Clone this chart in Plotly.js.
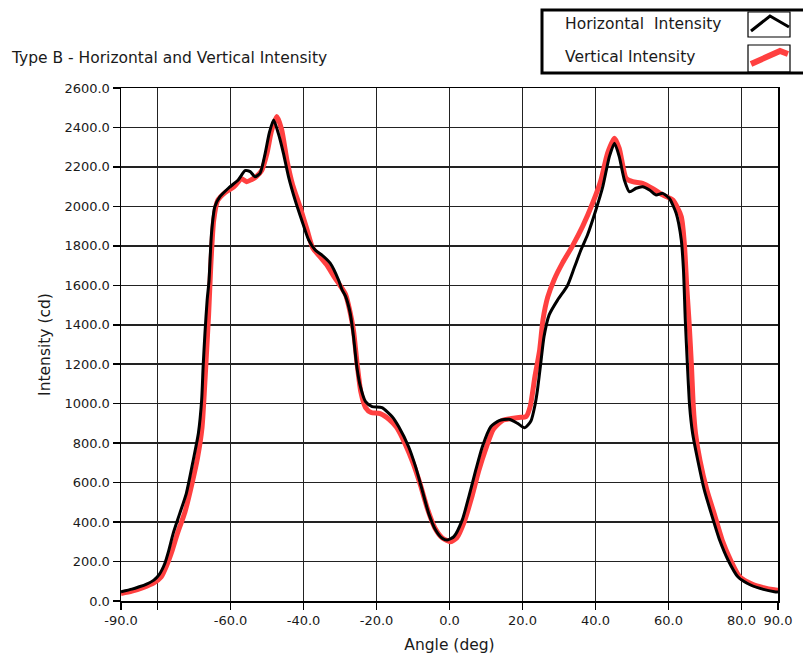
<!DOCTYPE html>
<html>
<head>
<meta charset="utf-8">
<script src="https://cdn.plot.ly/plotly-3.0.1.min.js"></script>
<style>html,body{margin:0;padding:0;background:#fff;}#chart{width:803px;height:664px;}</style>
</head>
<body>
<div id="chart"></div>
<script>
// Horizontal Intensity (black)
const horizAngle = [-90,-87,-85,-83,-81,-79.5,-78,-77,-75.7,-73.9,-72.1,-70.2,-68.8,-67.9,-67.5,-67.0,-66.4,-65.9,-65.2,-64.3,-62.9,-60.6,-57.9,-56.0,-54.6,-53.3,-51.9,-50.5,-49.4,-48.2,-46.9,-45.5,-44.1,-42.3,-40.5,-38.6,-36.8,-35.0,-32.7,-30.4,-29.5,-28.5,-27.2,-26.3,-25.4,-24.4,-23.0,-21.2,-18.5,-15.7,-13.9,-11.2,-9.3,-7.5,-5.7,-3.8,-2.0,-0.6,1.2,3.5,5.3,7.2,9.0,11.3,13.6,16.3,18.6,20.6,22.3,23.5,24.1,25.0,25.9,27.3,29.6,32.3,34.2,36.0,37.8,40.1,42.0,43.8,45.2,46.5,47.9,49.3,51.1,52.9,54.8,56.6,58.4,60.2,62.1,63.5,64.1,64.6,65.2,65.8,66.6,68.0,69.8,71.7,74.0,76.3,79.0,82.5,86.0,89.0,90];
const horizValue = [47,60,72,86,106,135,190,250,343,444,546,715,850,1019,1188,1358,1525,1620,1864,1998,2049,2092,2134,2181,2176,2150,2168,2269,2370,2438,2370,2269,2150,2032,1931,1830,1779,1754,1712,1627,1580,1545,1458,1340,1188,1086,1010,985,980,934,883,782,681,563,444,360,318,309,326,411,529,664,782,883,914,921,901,878,912,1000,1069,1205,1340,1450,1525,1598,1690,1779,1855,1982,2100,2252,2320,2252,2134,2074,2092,2100,2083,2058,2066,2041,1965,1830,1678,1424,1188,985,850,715,563,444,309,208,123,81,59,47,45];

// Vertical Intensity (red)
const vertAngle = [-90,-87,-84,-81,-79,-77.5,-76,-74.5,-72.5,-70.5,-69,-67.8,-67.2,-66.6,-66.0,-65.4,-64.6,-63.5,-61.5,-59,-57,-55.6,-54.3,-53,-51.5,-50,-48.8,-47.3,-46,-44.5,-43,-41,-39,-37.5,-35.5,-33.5,-31.5,-30,-28.5,-27.3,-26.3,-25.3,-24.3,-23.0,-21.5,-19,-16.5,-14.5,-12,-10,-8,-6,-4,-2,0.3,2,4,6,8,10,12,14.5,17,19,21,22.1,23.4,24.7,25.6,26.9,28.7,31.0,33.7,36.5,39.2,41.5,43.3,45.2,46.5,48.4,50.2,52.9,55.7,58.4,61.2,63.5,64.4,65.0,65.6,66.3,66.8,67.4,68.6,70.5,72.5,74.7,77,79.5,83,86,89,90];
const vertValue = [38,50,68,92,122,180,255,345,450,600,730,880,1050,1250,1450,1700,1930,2030,2070,2100,2140,2125,2135,2150,2180,2270,2380,2455,2390,2230,2110,2000,1880,1790,1745,1700,1640,1600,1555,1470,1370,1200,1060,980,955,950,920,880,790,700,590,465,370,320,300,320,400,520,660,775,870,915,925,930,935,985,1137,1272,1424,1540,1630,1715,1800,1900,2016,2134,2269,2345,2294,2142,2125,2117,2090,2058,2032,1948,1796,1593,1424,1188,985,850,715,563,444,309,208,123,85,68,57,55];

const xTickVals = [-90,-80,-60,-40,-20,0,20,40,60,80,90];
const xTickText = ['-90.0','','-60.0','-40.0','-20.0','0.0','20.0','40.0','60.0','80.0','90.0'];

const seriesNames = ['Horizontal  Intensity','Vertical Intensity'];

const W = 803, H = 664, L = 121, R = 25, T = 88, B = 63;
const pw = W - L - R, ph = H - T - B;
const px = v => (v - L) / pw;
const py = v => (H - B - v) / ph;

const FONT = 'DejaVu Sans, Verdana, sans-serif';
const TXT = '#1a1a1a';

const traces = [
  {x: vertAngle, y: vertValue, mode: 'lines', name: seriesNames[1],
   line: {color: '#ff4040', width: 5, shape: 'spline', smoothing: 0.6}},
  {x: horizAngle, y: horizValue, mode: 'lines', name: seriesNames[0],
   line: {color: '#000000', width: 3, shape: 'spline', smoothing: 0.6}}
];

const shapes = [
  {type: 'rect', xref: 'paper', yref: 'paper', x0: px(542), x1: px(806), y0: py(10), y1: py(73),
   line: {color: '#000', width: 3}, fillcolor: '#fff', layer: 'above'},
  {type: 'rect', xref: 'paper', yref: 'paper', x0: px(748), x1: px(790), y0: py(12), y1: py(37),
   line: {color: '#000', width: 1.2}, layer: 'above'},
  {type: 'rect', xref: 'paper', yref: 'paper', x0: px(748), x1: px(790), y0: py(45), y1: py(72),
   line: {color: '#000', width: 1.2}, layer: 'above'},
  {type: 'path', xref: 'paper', yref: 'paper', layer: 'above',
   path: `M ${px(751)} ${py(31)} L ${px(770)} ${py(16)} L ${px(789)} ${py(27)}`,
   line: {color: '#000', width: 3}},
  {type: 'path', xref: 'paper', yref: 'paper', layer: 'above',
   path: `M ${px(751)} ${py(64)} L ${px(780)} ${py(51)} L ${px(788)} ${py(54)}`,
   line: {color: '#ff4040', width: 6}}
];

const annotations = [
  {text: 'Type B - Horizontal and Vertical Intensity', xref: 'paper', yref: 'paper',
   x: px(9), y: py(58), xanchor: 'left', yanchor: 'middle', showarrow: false,
   font: {family: FONT, size: 15.5, color: TXT}},
  {text: seriesNames[0].replace('  ', '&nbsp; '), xref: 'paper', yref: 'paper',
   x: px(563), y: py(24), xanchor: 'left', yanchor: 'middle', showarrow: false,
   font: {family: FONT, size: 15.5, color: TXT}},
  {text: seriesNames[1], xref: 'paper', yref: 'paper',
   x: px(563), y: py(57), xanchor: 'left', yanchor: 'middle', showarrow: false,
   font: {family: FONT, size: 15.5, color: TXT}}
];

const layout = {
  width: W, height: H,
  margin: {l: L, r: R, t: T, b: B, pad: 0},
  paper_bgcolor: '#fff', plot_bgcolor: '#fff',
  showlegend: false,
  font: {family: FONT, size: 13, color: TXT},
  xaxis: {
    range: [-90, 90], tickmode: 'array', tickvals: xTickVals, ticktext: xTickText,
    showgrid: true, gridcolor: '#222', gridwidth: 1.5,
    showline: true, linecolor: '#000', linewidth: 1.5, mirror: true,
    ticks: 'outside', ticklen: 7, tickcolor: '#000', tickwidth: 1.5,
    zeroline: false,
    title: {text: 'Angle (deg)', font: {family: FONT, size: 15.5, color: TXT}, standoff: 12},
    tickfont: {family: FONT, size: 13, color: TXT}
  },
  yaxis: {
    range: [0, 2600], tick0: 0, dtick: 200, tickformat: '.1f',
    showgrid: true, gridcolor: '#222', gridwidth: 1.5,
    showline: true, linecolor: '#000', linewidth: 1.5, mirror: true,
    ticks: 'outside', ticklen: 7, tickcolor: '#000', tickwidth: 1.5,
    zeroline: false,
    title: {text: 'Intensity (cd)', font: {family: FONT, size: 15.5, color: TXT}, standoff: 10},
    tickfont: {family: FONT, size: 13, color: TXT}
  },
  shapes: shapes,
  annotations: annotations
};

Plotly.newPlot('chart', traces, layout, {displayModeBar: false, staticPlot: true});
</script>
</body>
</html>
